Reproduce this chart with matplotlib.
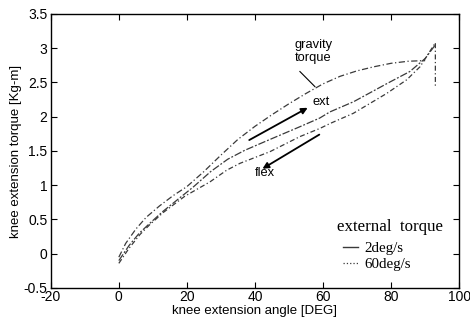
import matplotlib
matplotlib.use("Agg")
import matplotlib.pyplot as plt
from matplotlib.lines import Line2D

plt.rcParams['axes.unicode_minus'] = False
plt.rcParams['font.family'] = ['Liberation Sans', 'DejaVu Sans']

# gravity torque curve
grav_angle = [0, 2, 5, 8, 12, 16, 20, 25, 30, 35, 40, 45, 50, 55, 60, 65, 70, 75, 80, 85, 90]
grav_torque = [-0.05, 0.15, 0.36, 0.53, 0.7, 0.85, 0.98, 1.2, 1.44, 1.67, 1.86, 2.03, 2.19, 2.34, 2.48, 2.59, 2.67, 2.73, 2.78, 2.81, 2.82]

# external torque, 2 deg/s
ang_2 = [0, 3, 6, 9, 13, 18, 22, 27, 32, 37, 44, 53, 59, 62, 69, 79, 85.5, 90, 93]
tq_2 = [-0.1, 0.12, 0.3, 0.44, 0.62, 0.82, 0.98, 1.2, 1.38, 1.51, 1.66, 1.85, 1.98, 2.07, 2.22, 2.49, 2.66, 2.85, 3.05]

# external torque, 60 deg/s
ang_60 = [0, 3, 6.2, 9, 13, 19.4, 26.8, 31.7, 35.6, 44.4, 53.2, 59.1, 62, 68.9, 78.7, 84.6, 88.5, 93, 93]
tq_60 = [-0.14, 0.08, 0.28, 0.42, 0.6, 0.84, 1.05, 1.22, 1.32, 1.49, 1.71, 1.83, 1.9, 2.05, 2.34, 2.54, 2.73, 3.08, 2.42]

xticks = [-20, 0, 20, 40, 60, 80, 100]
yticks = [-0.5, 0, 0.5, 1, 1.5, 2, 2.5, 3, 3.5]
ytick_labels = ['-0.5', '0', '0.5', '1', '1.5', '2', '2.5', '3', '3.5']

fig = plt.figure(figsize=(4.7, 3.22), dpi=100)
ax = fig.add_axes([0.108, 0.1056, 0.869, 0.851])

lc = '#3a3a3a'
ax.plot(grav_angle, grav_torque, color=lc, lw=0.9, dashes=(5, 2, 1, 2))
ax.plot(ang_2, tq_2, color=lc, lw=0.9, dashes=(6, 1.5, 1.5, 1.5))
ax.plot(ang_60, tq_60, color=lc, lw=0.9, dashes=(4, 2, 1, 2))

ax.set_xlim(-20, 100)
ax.set_ylim(-0.5, 3.5)
ax.set_xticks(xticks)
ax.set_xticklabels([str(t) for t in xticks])
ax.set_yticks(yticks)
ax.set_yticklabels(ytick_labels)
ax.tick_params(direction='in', top=True, right=True, length=4, labelsize=10, width=0.8)
ax.tick_params(axis='x', pad=1.5)
ax.tick_params(axis='y', pad=2.5)
for s in ax.spines.values():
    s.set_linewidth(1.0)

ax.set_xlabel('knee extension angle [DEG]', fontsize=9.5, labelpad=0.5)
ax.set_ylabel('knee extension torque [Kg-m]', fontsize=9.5, labelpad=1)

# annotations
ax.text(57.1, 2.95, 'gravity\ntorque', ha='center', va='center', fontsize=9.3, linespacing=1.05)
ax.plot([53.2, 57.6], [2.66, 2.44], color='black', lw=0.8)
ax.annotate('', xy=(56.2, 2.15), xytext=(37.6, 1.64),
            arrowprops=dict(arrowstyle='-|>', color='black', lw=1.3, mutation_scale=9))
ax.text(59.5, 2.22, 'ext', ha='center', va='center', fontsize=9.3)
ax.annotate('', xy=(41.5, 1.22), xytext=(59.6, 1.76),
            arrowprops=dict(arrowstyle='-|>', color='black', lw=1.3, mutation_scale=9))
ax.text(43, 1.18, 'flex', ha='center', va='center', fontsize=9.3)

# legend
ax.text(0.7006, 0.2226, 'external  torque', transform=ax.transAxes, ha='left', va='center',
        family='Liberation Serif', fontsize=12.2)
handles = [Line2D([], [], color=lc, lw=1.0, ls='-'),
           Line2D([], [], color=lc, lw=0.9, ls=':')]
leg = ax.legend(handles, ['2deg/s', '60deg/s'],
                loc='upper left', bbox_to_anchor=(0.716, 0.168), frameon=False,
                handlelength=1.0, handletextpad=0.4, labelspacing=0.15,
                borderpad=0.0, borderaxespad=0.0,
                prop={'family': 'Liberation Serif', 'size': 10.8})

fig.savefig('out.png', dpi=100)
